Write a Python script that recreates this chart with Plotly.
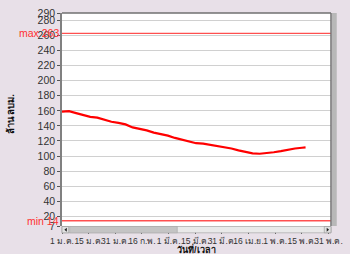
import plotly.graph_objects as go
import pandas as pd

# ---- data ----
dates = ["2016-01-01", "2016-01-05", "2016-01-09", "2016-01-13", "2016-01-17", "2016-01-21",
         "2016-01-25", "2016-01-29", "2016-02-02", "2016-02-06", "2016-02-10", "2016-02-14",
         "2016-02-18", "2016-02-22", "2016-02-26", "2016-03-01", "2016-03-05", "2016-03-09",
         "2016-03-13", "2016-03-17", "2016-03-21", "2016-03-25", "2016-03-29", "2016-04-02",
         "2016-04-06", "2016-04-10", "2016-04-14", "2016-04-18", "2016-04-22", "2016-04-26",
         "2016-04-30", "2016-05-04", "2016-05-08", "2016-05-12", "2016-05-16", "2016-05-18"]
volume = [159, 159.5, 157, 154, 152, 151,
          148, 145.5, 144, 142, 138, 136.5,
          134, 131, 129.5, 127, 124, 121.5,
          119, 117, 116.5, 115, 113, 111.5,
          110, 107.5, 105.5, 103.5, 103, 103.5,
          105, 106.5, 108.5, 110, 111, 111.5]

max_value = 263
min_value = 14
max_label = "max 263"
min_label = "min 14"

x_tick_labels = ["1 ม.ค.", "15 ม.ค.", "31 ม.ค.", "16 ก.พ.", "1 มี.ค.", "15 มี.ค.",
                 "31 มี.ค.", "16 เม.ย.", "1 พ.ค.", "15 พ.ค.", "31 พ.ค."]
y_tick_vals = [7, 20, 40, 60, 80, 100, 120, 140, 160, 180, 200, 220, 240, 260, 280, 290]

y_title = "ล้าน ลบม."
x_title = "วันที่/เวลา"

# ---- layout helpers ----
start = pd.Timestamp("2016-01-01")
end = pd.Timestamp("2016-05-31")
step = (end - start) / (len(x_tick_labels) - 1)
x_tick_vals = [start + i * step for i in range(len(x_tick_labels))]
x_range = [start, pd.Timestamp("2016-06-01 10:00")]

BG = "#E8E0E8"
FONT = "Liberation Sans, Arial, sans-serif"
W, H = 350, 254
L, R, T, B = 62, 8, 7, 28
PW, PH = W - L - R, H - T - B


def px_x(px):
    return (px - L) / PW


def px_y(py):
    return (H - B - py) / PH


fig = go.Figure()
fig.add_trace(go.Scatter(
    x=pd.to_datetime(dates), y=volume, mode="lines",
    line=dict(color="#FF0000", width=2.2), showlegend=False, hoverinfo="skip"))

shapes = []
for v in (max_value, min_value):
    shapes.append(dict(type="line", xref="paper", yref="y", x0=0, x1=1, y0=v, y1=v,
                       line=dict(color="#FF5050", width=1.3), layer="above"))

# scrollbar decoration under the plot
sb_top, sb_bot = px_y(226.5), px_y(233)
shapes += [
    dict(type="rect", xref="paper", yref="paper", x0=px_x(62), x1=px_x(342), y0=sb_bot, y1=sb_top,
         fillcolor="#E9E9E9", line=dict(color="#B0B0B0", width=0.8), layer="above"),
    dict(type="rect", xref="paper", yref="paper", x0=px_x(70), x1=px_x(182), y0=sb_bot, y1=sb_top,
         fillcolor="#C4C4C4", line=dict(color="#A8A8A8", width=0.6), layer="above"),
    dict(type="rect", xref="paper", yref="paper", x0=px_x(62), x1=px_x(69), y0=sb_bot, y1=sb_top,
         fillcolor="#E0E0E0", line=dict(color="#909090", width=0.6), layer="above"),
    dict(type="rect", xref="paper", yref="paper", x0=px_x(335), x1=px_x(342), y0=sb_bot, y1=sb_top,
         fillcolor="#E0E0E0", line=dict(color="#909090", width=0.6), layer="above"),
    dict(type="path", xref="paper", yref="paper",
         path=f"M {px_x(67)} {px_y(227.8)} L {px_x(67)} {px_y(231.8)} L {px_x(64.5)} {px_y(229.8)} Z",
         fillcolor="#202020", line=dict(width=0), layer="above"),
    dict(type="path", xref="paper", yref="paper",
         path=f"M {px_x(337.5)} {px_y(227.8)} L {px_x(337.5)} {px_y(231.8)} L {px_x(340)} {px_y(229.8)} Z",
         fillcolor="#202020", line=dict(width=0), layer="above"),
    # right side bar
    dict(type="rect", xref="paper", yref="paper", x0=px_x(343), x1=px_x(348), y0=px_y(226), y1=px_y(7),
         fillcolor="#B8B8B8", line=dict(width=0), layer="above"),
]

annotations = [
    dict(text=max_label, xref="paper", yref="y", x=0, y=max_value, xanchor="right", yanchor="middle",
         xshift=-1, showarrow=False, font=dict(color="#FF3030", size=10.5, family=FONT)),
    dict(text=min_label, xref="paper", yref="y", x=0, y=min_value, xanchor="right", yanchor="middle",
         xshift=-1, showarrow=False, font=dict(color="#FF3030", size=10.5, family=FONT)),
    dict(text=f"<b>{y_title}</b>", xref="paper", yref="paper", x=px_x(8), y=px_y(111),
         textangle=-90, showarrow=False, xanchor="center", yanchor="middle",
         font=dict(color="#111111", size=9.5, family=FONT)),
    dict(text=f"<b>{x_title}</b>", xref="paper", yref="paper", x=px_x(202), y=px_y(250),
         showarrow=False, xanchor="center", yanchor="middle",
         font=dict(color="#111111", size=9, family=FONT)),
]

fig.update_layout(
    width=W, height=H,
    margin=dict(l=L, r=R, t=T, b=B),
    paper_bgcolor=BG, plot_bgcolor="#FFFFFF",
    font=dict(family=FONT, size=11, color="#333333"),
    shapes=shapes, annotations=annotations,
    xaxis=dict(type="date", range=x_range, tickvals=x_tick_vals, ticktext=x_tick_labels,
               tickangle=0, ticks="outside", ticklen=7, tickcolor="#555555", tickwidth=1,
               showgrid=False, zeroline=False, showline=False, ticklabeloverflow="allow",
               tickfont=dict(size=8.5, color="#333333"), ticklabelstandoff=0),
    yaxis=dict(range=[7, 290], tickvals=y_tick_vals, ticks="outside", ticklen=3,
               tickcolor="#555555", showgrid=True, gridcolor="#D0D0D0", gridwidth=1.2,
               zeroline=False, showline=True, linecolor="#808080", linewidth=1.5,
               mirror=False, tickfont=dict(size=10.5, color="#333333")),
)
# top / right frame
fig.add_shape(type="line", xref="paper", yref="paper", x0=0, x1=1, y0=1, y1=1,
              line=dict(color="#707070", width=1.5), layer="above")
fig.add_shape(type="line", xref="paper", yref="paper", x0=1, x1=1, y0=0, y1=1,
              line=dict(color="#707070", width=1.5), layer="above")

fig.write_html("out.html")
